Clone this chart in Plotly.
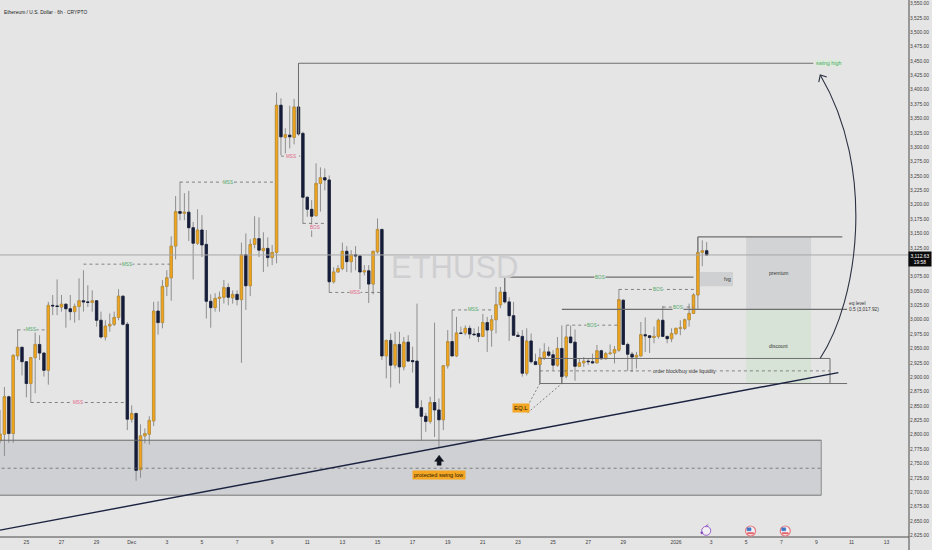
import numpy as np
import pandas as pd
import plotly.graph_objects as go

# Candle data, 6h bars
opens = [2790,2801,2866,2802,2937,2952,2927,2889,2934,2957,
 2942,2912,3025,3024,3022,3027,3019,3014,3023,3033,
 3031,3030,3033,2999,2970,2989,2992,3004,3041,2992,
 2827,2837,2739,2798,2801,2824,3015,2995,3058,3073,
 3128,3188,3185,3187,3160,3133,3156,3131,3032,3021,
 3037,3039,3056,3038,3044,3035,3113,3059,3131,3141,
 3120,3124,3108,3117,3373,3317,3321,3317,3370,3324,
 3213,3192,3181,3237,3247,3243,3066,3083,3089,3119,
 3101,3113,3111,3083,3085,3062,3118,3157,2937,2964,
 2921,2957,2918,2961,2929,2928,2847,2832,2823,2856,
 2843,2826,2920,2962,2937,2977,2977,2985,2975,2976,
 2971,2995,2982,3000,3026,3048,3031,3007,2973,2971,
 2907,2963,2927,2922,2934,2944,2939,2921,2950,2902,
 2970,2961,2919,2925,2928,2927,2925,2946,2932,2941,
 2942,2947,3034,2957,2940,2935,2937,2974,2972,2969,
 2971,2999,2971,2967,2976,2985,2985,3000,3011,3043,
 3117,3120]
highs = [2843,2883,2868,2940,2983,2953,2928,2935,2982,2973,
 2943,3031,3043,3070,3043,3028,3043,3028,3072,3086,
 3060,3051,3034,3014,2999,3011,3014,3053,3042,2996,
 2851,2838,2818,2811,2832,3031,3032,3069,3086,3145,
 3215,3240,3220,3224,3170,3192,3182,3156,3044,3046,
 3049,3069,3063,3051,3051,3134,3150,3140,3180,3178,
 3152,3143,3130,3395,3385,3333,3372,3384,3446,3327,
 3214,3208,3272,3265,3263,3251,3091,3095,3134,3128,
 3121,3128,3112,3095,3095,3120,3176,3158,2965,2976,
 2979,2979,2970,2973,2953,3028,2860,2838,2866,2995,
 2863,2921,2982,3017,3005,2988,2990,2990,2985,2988,
 3010,3005,3008,3057,3057,3073,3039,3031,2979,2982,
 2985,2976,2941,2950,2959,2953,2947,2970,2990,2990,
 2990,2983,2932,2935,2932,2941,2956,2948,2944,2957,
 2954,3053,3035,2960,2944,2944,2996,3004,2973,2988,
 3002,3024,2972,2985,2986,2999,3002,3028,3046,3144,
 3138,3135]
lows = [2785,2763,2786,2786,2930,2903,2865,2856,2872,2930,
 2901,2887,3008,3008,3014,2986,2999,2995,2999,3014,
 3022,3014,2988,2967,2964,2979,2989,2999,2990,2808,
 2821,2720,2725,2785,2783,2815,2974,2985,3041,3033,
 3105,3173,3173,3137,3070,3130,3109,3002,2986,3014,
 3014,3028,3025,3028,3025,2925,3017,3041,3124,3109,
 3083,3092,3095,3098,3286,3289,3298,3305,3320,3167,
 3179,3144,3179,3188,3225,3047,3063,3082,3086,3083,
 3082,3086,3053,3077,3029,3044,3115,2930,2898,2882,
 2915,2889,2912,2927,2908,2846,2790,2805,2819,2796,
 2778,2808,2915,2937,2935,2975,2973,2967,2972,2961,
 2970,2944,2953,2976,3020,3028,2963,2972,2970,2901,
 2903,2924,2921,2889,2930,2935,2912,2918,2889,2898,
 2959,2894,2918,2918,2921,2924,2924,2931,2931,2939,
 2924,2944,2956,2911,2909,2915,2936,2944,2942,2959,
 2967,2970,2959,2961,2973,2973,2982,2988,3010,3017,
 3093,3111]
closes = [2801,2866,2802,2938,2952,2927,2889,2934,2957,2942,
 2912,3025,3024,3023,3027,3019,3014,3023,3033,3031,
 3030,3033,2999,2970,2989,2992,3004,3041,2992,2827,
 2837,2738,2798,2802,2825,3015,2995,3058,3073,3128,
 3188,3185,3187,3160,3133,3156,3130,3032,3021,3037,
 3039,3056,3039,3044,3035,3113,3059,3131,3141,3121,
 3124,3108,3117,3373,3318,3322,3318,3370,3323,3213,
 3192,3180,3237,3247,3243,3066,3083,3089,3119,3101,
 3113,3111,3083,3085,3062,3119,3157,2937,2964,2921,
 2957,2918,2961,2928,2927,2847,2832,2823,2856,2843,
 2826,2920,2962,2937,2977,2976,2985,2975,2974,2971,
 2995,2982,3000,3026,3048,3031,3007,2973,2971,2907,
 2963,2927,2922,2934,2944,2938,2921,2950,2901,2970,
 2960,2919,2925,2928,2927,2925,2946,2932,2941,2942,
 2948,3035,2957,2940,2935,2938,2974,2972,2969,2971,
 2999,2971,2967,2976,2985,2986,3000,3011,3043,3117,
 3120,3112.63]

x_ticks = ["2025-11-25","2025-11-27","2025-11-29","2025-12-01","2025-12-03","2025-12-05","2025-12-07",
           "2025-12-09","2025-12-11","2025-12-13","2025-12-15","2025-12-17","2025-12-19","2025-12-21",
           "2025-12-23","2025-12-25","2025-12-27","2025-12-29","2026-01-01","2026-01-03","2026-01-05",
           "2026-01-07","2026-01-09","2026-01-11","2026-01-13"]
x_labels = ["25","27","29","Dec","3","5","7","9","11","13","15","17","19","21","23","25","27","29",
            "2026","3","5","7","9","11","13"]
price_ticks = [v for v in range(2625, 3551, 25) if v != 3100]  # 3,100 sits under the last-price tag

BG = "#e5e5e5"
FONT = "Liberation Sans, Arial"
ORANGE, NAVY, WICK = "#f2a51c", "#151d3b", "#8e8e8e"
GREEN, RED = "#4fa866", "#e2688a"
W, H, PW, PH = 932, 550, 908.7, 536.7
ZERO = pd.Timestamp("2025-12-01")

def T(k):
    """Time of candle slot k (k=0 is 1 Dec 00:00)."""
    return (ZERO + pd.Timedelta(hours=6 * k)).strftime("%Y-%m-%d %H:%M:%S")

def X(px):
    return px / PW

def Y(py):
    return 1 - py / PH

dates = [T(k) for k in range(-30, 132)]
o, c = np.array(opens, float), np.array(closes, float)

fig = go.Figure()
fig.add_trace(go.Candlestick(
    x=dates, open=opens, high=highs, low=lows, close=closes,
    increasing=dict(line=dict(color=WICK, width=1), fillcolor=WICK),
    decreasing=dict(line=dict(color=WICK, width=1), fillcolor=WICK),
    hoverinfo="skip"))
fig.add_trace(go.Candlestick(
    x=dates, open=opens, close=closes, high=np.maximum(o, c), low=np.minimum(o, c),
    increasing=dict(line=dict(color="#c4922a", width=0.6), fillcolor=ORANGE),
    decreasing=dict(line=dict(color=NAVY, width=0.7), fillcolor=NAVY),
    hoverinfo="skip"))

shapes, annos = [], []

def rect(k0, k1, p0, p1, fill):
    shapes.append(dict(type="rect", xref="x", yref="y", x0=T(k0), x1=T(k1), y0=p0, y1=p1,
                       fillcolor=fill, layer="below", line=dict(width=0)))

def seg(k0, p0, k1, p1, color="#6e6e6e", width=1, dash="solid"):
    shapes.append(dict(type="line", xref="x", yref="y", x0=T(k0), x1=T(k1), y0=p0, y1=p1,
                       line=dict(color=color, width=width, dash=dash)))

def paper(path=None, fill=None, color="#000", width=1, **kw):
    d = dict(xref="paper", yref="paper", line=dict(color=color, width=width))
    if path:
        d.update(type="path", path=path)
    if fill:
        d["fillcolor"] = fill
    d.update(kw)
    shapes.append(d)

def label(k, p, text, color="#3a3a3a", size=4.6, bg=BG, **kw):
    annos.append(dict(x=T(k), y=p, xref="x", yref="y", text=text, showarrow=False,
                      font=dict(family=FONT, size=size, color=color), bgcolor=bg,
                      borderpad=0, **kw))

# filled zones
rect(-31, 157.1, 2694.7, 2790.4, "#ced0d3")
rect(140, 154.8, 3017.9, 3144, "#d2d3d5")
rect(140, 154.8, 2889, 3017.9, "#d8e3d7")
rect(129.5, 137, 3058, 3083, "#ced0d2")

# zone edges
seg(-31, 2790.4, 157.1, 2790.4, "#6a6a6a", 1)
seg(-31, 2694.7, 157.1, 2694.7, "#989898", 1.5)
seg(157.1, 2694.7, 157.1, 2790.4, "#8a8a8a", 1)
seg(-31, 2741.7, 157.1, 2741.7, "#6a6a6a", 0.8, "3px,3px")

# last-price line
seg(-31, 3112.6, 177.2, 3112.6, "#a8a8a8", 1)

# structure breaks: dashed lines with small coloured labels
breaks = [
    (-26, -19.8, 2982.3, "MSS", GREEN), (-23, -1.3, 2856, "MSS", RED),
    (-11, 8.7, 3096.6, "MSS", GREEN), (11, 32.7, 3239.3, "MSS", GREEN),
    (34, 38.4, 3284.5, "MSS", RED), (45, 56.8, 3047.4, "MSS", RED),
    (73, 82.4, 3017, "MSS", GREEN), (99, 110.6, 2990.5, "BOS", GREEN),
    (111, 128.6, 3052.6, "BOS", GREEN), (121, 128, 3022, "BOS", GREEN),
]
for k0, k1, p, txt, col in breaks:
    seg(k0, p, k1, p, "#6a6a6a", 0.8, "3px,3px")
    label((k0 + k1) / 2, p, txt, col)
seg(39, 3167.5, 44.3, 3167.5, "#6a6a6a", 0.8, "3px,3px")
label(41.7, 3160, "BOS", RED)
seg(85, 3074, 128, 3074, "#6e6e6e", 1.1)
seg(85, 3074, 85, 3048, "#6e6e6e", 1)
label(106.8, 3074, "BOS", GREEN)

# swing high, recent high, eq level
seg(38, 3446, 155.3, 3446)
seg(38, 3446, 38, 3323)
seg(129, 3144, 161.9, 3144, "#6e6e6e", 1.2)
seg(129, 3144, 129, 3117, "#6e6e6e", 1)
seg(98, 3017.9, 163, 3017.9, "#6e6e6e", 1.2)

# order block
seg(93, 2932.6, 159.1, 2932.6)
seg(93, 2889, 163, 2889)
seg(159.1, 2889, 159.1, 2932.6)
seg(93, 2889, 93, 2922)
seg(98, 2889, 98, 2901)
seg(93, 2911, 159.1, 2911, "#6a6a6a", 0.8, "3px,3px")
label(126, 2911, "order block/buy side liquidity", "#333333", 5)

# EQ.L
seg(90.2, 2850, 93, 2889, "#6a6a6a", 0.8, "2px,2px")
seg(90.2, 2838, 98, 2889, "#6a6a6a", 0.8, "2px,2px")

# trend line
seg(-30, 2634, 161, 2908, "#1b2340", 1.4)

# curved arrow
paper(path=f"M {X(820)} {Y(358)} C {X(858)} {Y(300)} {X(876)} {Y(170)} {X(820)} {Y(75)}",
      color="#2c3242", width=1.1, layer="above")
paper(path=f"M {X(818.5)} {Y(82)} L {X(820)} {Y(75)} L {X(826.5)} {Y(77)}",
      color="#2c3242", width=1.1, layer="above")

# arrow above protected swing low
paper(path=(f"M {X(439)} {Y(455)} L {X(443.5)} {Y(461)} L {X(441)} {Y(461)} L {X(441)} {Y(465)} "
            f"L {X(437)} {Y(465)} L {X(437)} {Y(461)} L {X(434.5)} {Y(461)} Z"),
      fill="#11151f", color="#11151f", width=0.5, layer="above")

# frame lines
paper(type="line", x0=X(0), x1=X(PW), y0=Y(PH), y1=Y(PH), color="#4a4a4a", width=1)
paper(type="line", x0=X(PW), x1=X(PW), y0=Y(0), y1=Y(H), color="#4a4a4a", width=1)

# event icons
paper(type="circle", x0=X(701.5), x1=X(710.5), y0=Y(526), y1=Y(535), fill="#f3eff7", color="#9b62c6", width=1)
paper(type="circle", x0=X(700.5), x1=X(702.5), y0=Y(531.5), y1=Y(533.5), fill="#7a3fc0", color="#7a3fc0", width=0.5)
for cx in (750.3, 785):
    paper(type="circle", x0=X(cx - 5), x1=X(cx + 5), y0=Y(525.7), y1=Y(535.7), fill="#f4f4f6", color="#e77a80", width=1.2)
    paper(type="rect", x0=X(cx - 3.5), x1=X(cx + 0.5), y0=Y(527.5), y1=Y(530.5), fill="#3d76c6", color="#3d76c6", width=0.5)
    paper(type="rect", x0=X(cx - 3), x1=X(cx + 3), y0=Y(532.3), y1=Y(533.5), fill="#e0505a", color="#e0505a", width=0.5)

# text labels
label(158.7, 3446, "swing high", GREEN, 5.4, bg="#dcebdc")
NOBG = "rgba(0,0,0,0)"
label(147.4, 3081, "premium", "#333333", 5, bg=NOBG)
label(147.4, 2955, "discount", "#333333", 5, bg=NOBG)
label(135.7, 3070.5, "fvg", "#333333", 5, bg=NOBG)
label(163.3, 3022.5, "eq level<br>0.5 (3,017.92)", "#333333", 4.8, bg=NOBG, xanchor="left", align="left")

def tag(k, p, text, size):
    annos.append(dict(x=T(k), y=p, xref="x", yref="y", text=text, showarrow=False,
                      font=dict(family=FONT, size=size, color="#241a05"), bgcolor="#f5a623", borderpad=1))
tag(70, 2730, "protected swing low", 5.6)
tag(88.6, 2846, "EQ.L", 6)

# watermark
annos.append(dict(x=T(73.5), y=3091, xref="x", yref="y", text="ETHUSD", showarrow=False,
                  font=dict(family=FONT, size=31, color="#cfcfd2")))
# title
annos.append(dict(x=X(1.5), y=Y(8), xref="paper", yref="paper", text="Ethereum / U.S. Dollar · 6h · CRYPTO",
                  showarrow=False, xanchor="left", font=dict(family=FONT, size=4.9, color="#222222")))
# last price tag
annos.append(dict(x=X(919.2), y=Y(258.7), xref="paper", yref="paper", text="3,112.63<br>19:58",
                  showarrow=False, align="center", xanchor="center", font=dict(family=FONT, size=4.9, color="#ffffff"),
                  bgcolor="#0a0a0a", borderpad=1.5))
# lightning icon glyph
annos.append(dict(x=X(706.3), y=Y(530.5), xref="paper", yref="paper", text="⚡", showarrow=False, xanchor="center",
                  font=dict(family="DejaVu Sans", size=6, color="#8e4fc0")))

fig.update_layout(
    width=W, height=H, autosize=False, showlegend=False, dragmode=False,
    paper_bgcolor=BG, plot_bgcolor=BG,
    margin=dict(l=0, r=W - PW, t=0, b=H - PH, pad=0),
    boxgap=0.22,
    shapes=shapes, annotations=annos,
    font=dict(family=FONT),
    xaxis=dict(type="date", range=[T(-30.01), T(177.1)], showgrid=False, zeroline=False, showline=False,
               rangeslider=dict(visible=False), tickmode="array", tickvals=x_ticks, ticktext=x_labels,
               tickangle=0, ticks="", ticklabelstandoff=1, tickfont=dict(family=FONT, size=5, color="#3f3f3f"), fixedrange=True),
    yaxis=dict(side="right", range=[2622.1, 3556], showgrid=False, zeroline=False, showline=False,
               tickmode="array", tickvals=price_ticks, tickformat=",.2f", ticks="",
               tickfont=dict(family=FONT, size=4.9, color="#3f3f3f"), fixedrange=True),
)

fig.write_html("out.html", config=dict(displayModeBar=False, staticPlot=True),
               post_script="document.body.style.margin='0';")
